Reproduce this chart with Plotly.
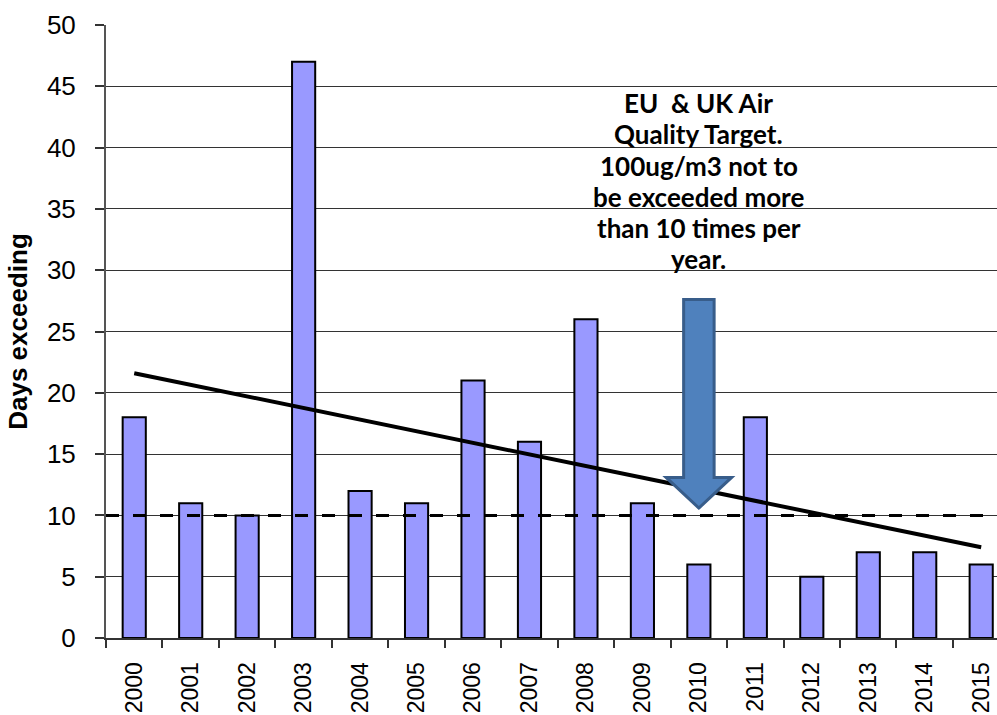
import plotly.graph_objects as go

# ---- data ----
years = list(range(2000, 2016))
year_labels = [str(y) for y in years]
days_exceeding = [18, 11, 10, 47, 12, 11, 21, 16, 26, 11, 6, 18, 5, 7, 7, 6]
trend_years = [2000, 2015]
trend_values = [21.6, 7.4]
target_days = 10
y_ticks = list(range(0, 55, 5))
note_lines = ["EU  &amp; UK Air", "Quality Target.", "100ug/m3 not to",
              "be exceeded more", "than 10 times per", "year."]
arrow_year = 2010

fig = go.Figure()
fig.add_trace(go.Bar(
    x=years, y=days_exceeding, width=0.41,
    marker=dict(color="#9999FF", line=dict(color="black", width=2)),
    showlegend=False, hoverinfo="x+y",
))
fig.add_trace(go.Scatter(
    x=trend_years, y=trend_values, mode="lines",
    line=dict(color="black", width=4), showlegend=False,
))

# dashed target line
fig.add_shape(type="line", xref="paper", x0=0, x1=1, yref="y",
              y0=target_days, y1=target_days,
              line=dict(color="black", width=3, dash="13px,14px"), layer="above")

# block arrow (decoration) pointing at target line
hw_shaft, hw_head = 0.27, 0.58
y_top, y_head, y_tip = 27.6, 13.1, 10.6
ax = arrow_year
path = (f"M {ax-hw_shaft},{y_top} L {ax+hw_shaft},{y_top} L {ax+hw_shaft},{y_head} "
        f"L {ax+hw_head},{y_head} L {ax},{y_tip} L {ax-hw_head},{y_head} "
        f"L {ax-hw_shaft},{y_head} Z")
fig.add_shape(type="path", path=path, xref="x", yref="y",
              fillcolor="#4F81BD", line=dict(color="#385D8A", width=3), layer="above")

line_step = 2.53
for i, txt in enumerate(note_lines):
    fig.add_annotation(x=arrow_year, y=43.6 - i * line_step, xref="x", yref="y",
                       yanchor="middle", text=txt, showarrow=False, align="center",
                       font=dict(family="Lato", size=26, color="black", weight="bold"))

boundaries = [y - 0.5 for y in years]
fig.update_xaxes(
    range=[1999.5, 2015.28], tickvals=years, ticktext=year_labels, tickangle=-90,
    ticks="", ticklabelstandoff=13,
    tickfont=dict(family="Liberation Sans, Arial", size=23, color="black"),
    showline=True, linecolor="#333333", linewidth=2, showgrid=False, zeroline=False,
    minor=dict(tickvals=boundaries, ticks="outside", ticklen=8, tickcolor="#333333",
               tickwidth=2, showgrid=False),
)
fig.update_yaxes(
    range=[0, 50], tickvals=y_ticks, ticks="outside", ticklen=9, tickcolor="#333333",
    tickwidth=2, ticklabelstandoff=14,
    tickfont=dict(family="Liberation Sans, Arial", size=26, color="black"),
    showline=True, linecolor="#555555", linewidth=2,
    showgrid=True, gridcolor="#333333", gridwidth=1, zeroline=False,
    title=dict(text="<b>Days exceeding</b>", standoff=12,
               font=dict(family="Liberation Sans, Arial", size=26, color="black")),
)
fig.update_layout(
    width=997, height=715, margin=dict(l=106, r=0, t=25, b=77, autoexpand=False),
    paper_bgcolor="white", plot_bgcolor="white", bargap=0.59,
)
fig.write_html("out.html", config={"displayModeBar": False},
               post_script="document.body.style.margin='0';document.body.style.padding='0';")
